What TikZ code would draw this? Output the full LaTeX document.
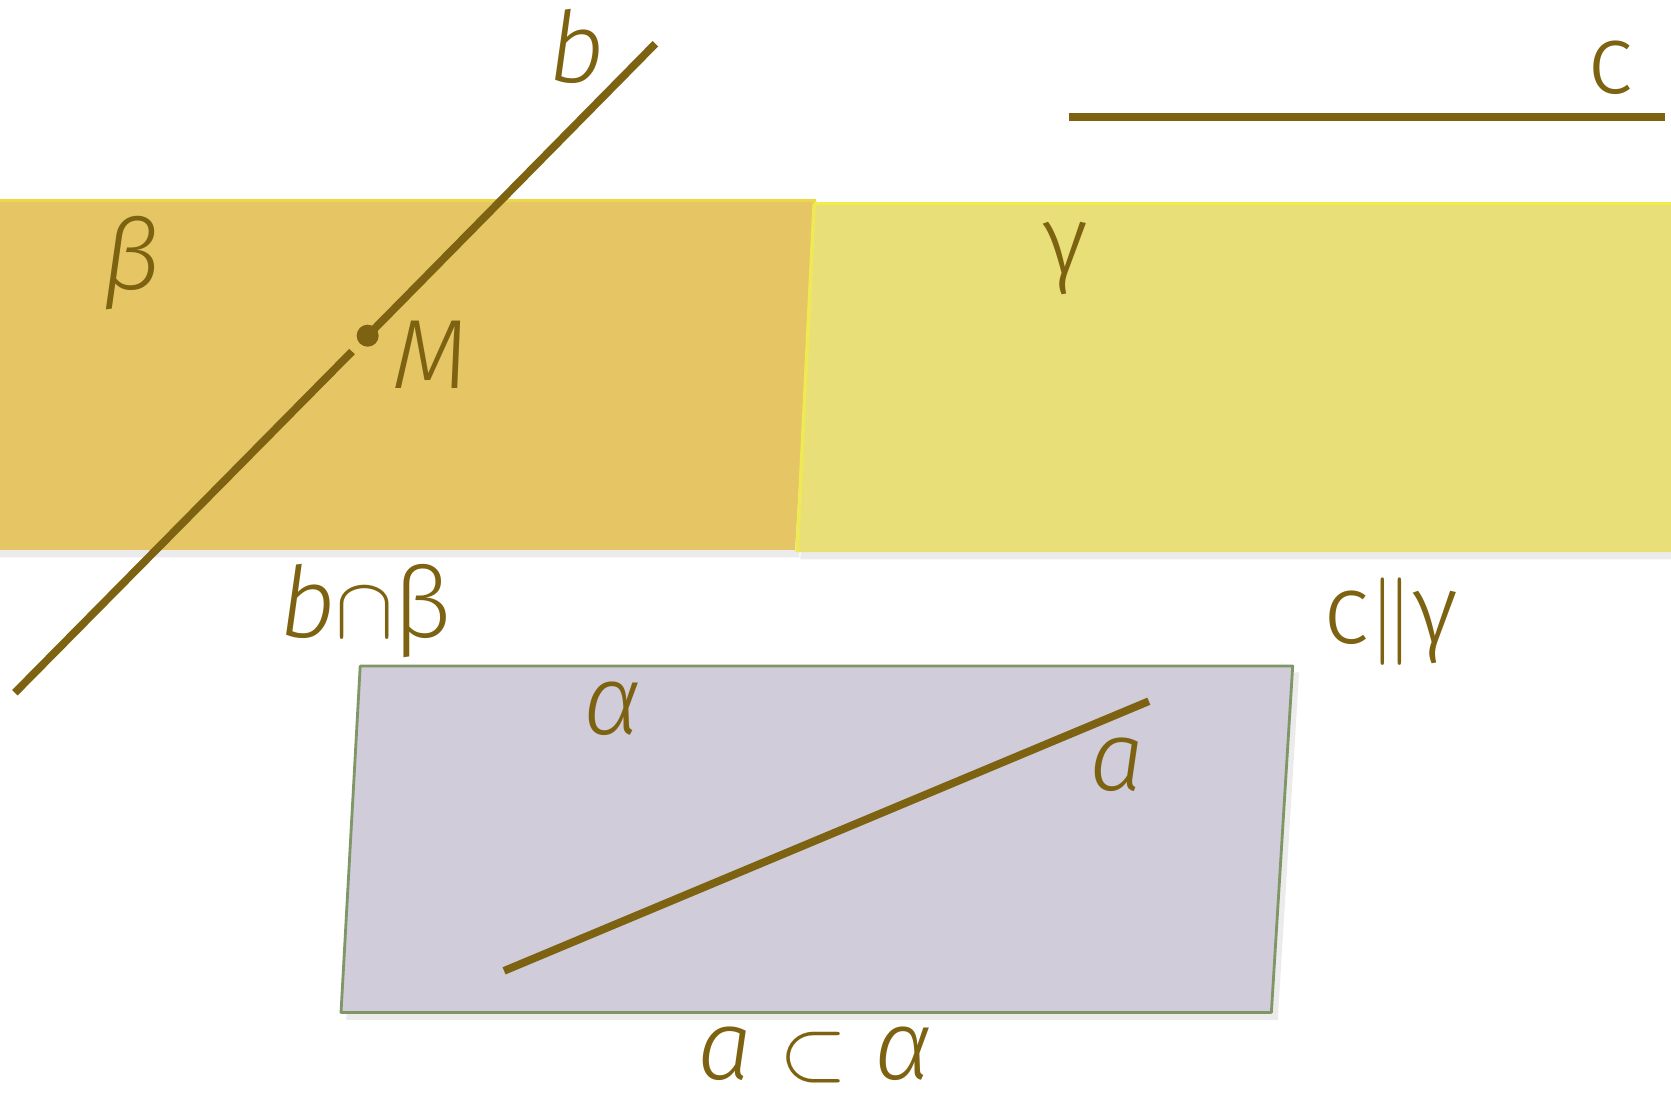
\documentclass[tikz,border=0pt]{standalone}
\usepackage{fontspec}
\setmainfont{Fira Sans}[UprightFont=* Light, ItalicFont=* Light Italic]
\usetikzlibrary{positioning}
\definecolor{linecol}{HTML}{7D6311}
\definecolor{betacol}{HTML}{E6C664}
\definecolor{gammacol}{HTML}{E8DF78}
\definecolor{alphacol}{HTML}{D0CCDA}
\definecolor{alphaedge}{HTML}{7F9666}
\tikzset{
  lbl/.style={text=linecol, inner sep=0pt},
  ln/.style={draw=linecol, line width=2.2pt},
  shade/.style={fill=black, opacity=0.08}
}
\begin{document}
\begin{tikzpicture}[x=0.010657cm, y=-0.010657cm, font=\fontsize{28}{30}\selectfont, line join=round, >=stealth]
  \useasboundingbox (0,0) rectangle (1568,1028);
  % shadows
  \fill[shade] (0,194) -- (768,194) -- (750,523) -- (0,523) -- cycle;
  \fill[shade] (766,197) -- (1568,197) -- (1568,525) -- (751,525) -- cycle;
  \fill[shade] (343,631) -- (1219,631) -- (1199,957) -- (325,957) -- cycle;
  % planes
  \fill[betacol] (0,188) -- (766,188) -- (746,516) -- (0,516) -- cycle;
  \fill[gammacol] (764,191) -- (1568,191) -- (1568,518) -- (748,518) -- cycle;
  \draw[gammacol!70!yellow, line width=1pt] (764,191) -- (748,518);
  \draw[gammacol!60!yellow, line width=1pt] (764,191) -- (1568,191);
  \draw[betacol!70!yellow, line width=1pt] (0,188) -- (766,188);
  \draw[alphaedge, line width=0.8pt, fill=alphacol] (338,625) -- (1213,625) -- (1193,950) -- (320,950) -- cycle;
  % lines
  \coordinate (b1) at (615,41);
  \coordinate (b2) at (14,650);
  \node[circle, fill=linecol, inner sep=0pt, minimum size=0.22cm] (M) at (345,315) {};
  \draw[ln] (b1) -- (M.center);
  \draw[ln, shorten <=3pt] (M) -- (b2);
  \coordinate (c1) at (1003,110);
  \coordinate (c2) at (1562,110);
  \draw[ln] (c1) -- (c2);
  \coordinate (a1) at (473,911);
  \coordinate (a2) at (1078,658);
  \draw[ln] (a1) -- (a2);
  % labels
  \node[lbl] (lb) at (541,44) {\itshape b};
  \node[lbl] (lc) at (1511,64) {c};
  \node[lbl] (lbeta) at (123,247) {\itshape β};
  \node[lbl] (lgamma) at (1000,243) {γ};
  \node[lbl] (lM) at (404,333) {\itshape M};
  \node[lbl] (lbb) at (343,573) {\itshape b\/\upshape$\cap$β};
  \node[lbl] (lcg) at (1305,583) {c$\parallel$γ};
  \node[lbl] (lalpha) at (575,665) {\itshape α};
  \node[lbl] (la) at (1048,718) {\itshape a};
  \node[lbl] (lac) at (765,990) {\itshape a $\subset$ α};
\end{tikzpicture}
\end{document}
